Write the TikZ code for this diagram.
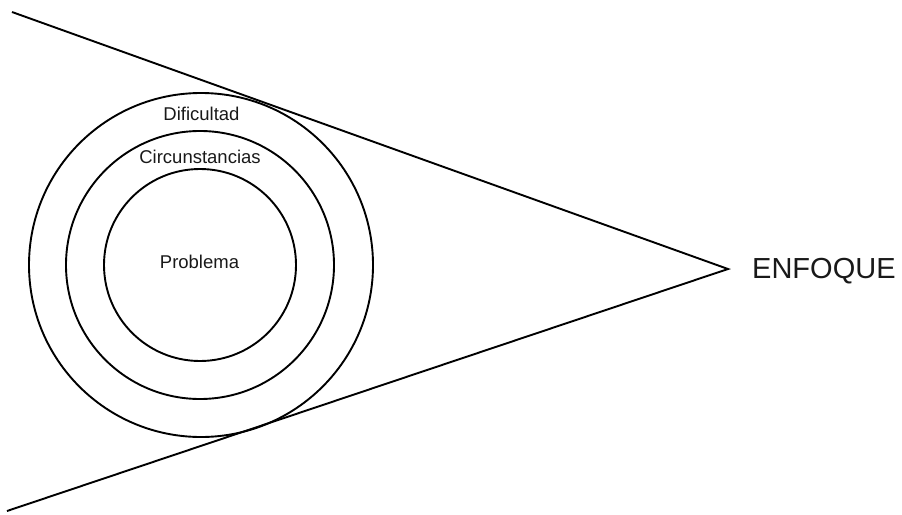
\documentclass[tikz,border=0pt]{standalone}
\usepackage{fontspec}
\setmainfont{Liberation Sans}
\begin{document}
\begin{tikzpicture}[x=1pt,y=-1pt,
  ring/.style={circle,draw=black,line width=1.9pt,inner sep=0pt,outer sep=0pt},
  lbl/.style={anchor=base,inner sep=0pt,text=black!90,font=\fontsize{18.5}{20}\selectfont},
  big/.style={anchor=base west,inner sep=0pt,text=black!90,font=\fontsize{29}{32}\selectfont},
  edge/.style={draw=black,line width=1.9pt,line join=miter}]
\useasboundingbox (0,0) rectangle (902,514);
\node[ring,minimum size=344pt] (outer) at (201,265) {};
\node[ring,minimum size=268pt] (middle) at (200,265) {};
\node[ring,minimum size=192pt] (inner) at (200,265) {};
\node[lbl] (dif) at (201.5,120.7) {Dificultad};
\node[lbl] (circ) at (200,163.3) {Circunstancias};
\node[lbl] (prob) at (199.5,268.3) {Problema};
\coordinate (tl) at (12,12);
\coordinate (apex) at (728,269);
\coordinate (bl) at (7,511);
\draw[edge] (tl) -- (apex) -- (bl);
\node[big] (enf) at (752,278) {ENFOQUE};
\end{tikzpicture}
\end{document}
